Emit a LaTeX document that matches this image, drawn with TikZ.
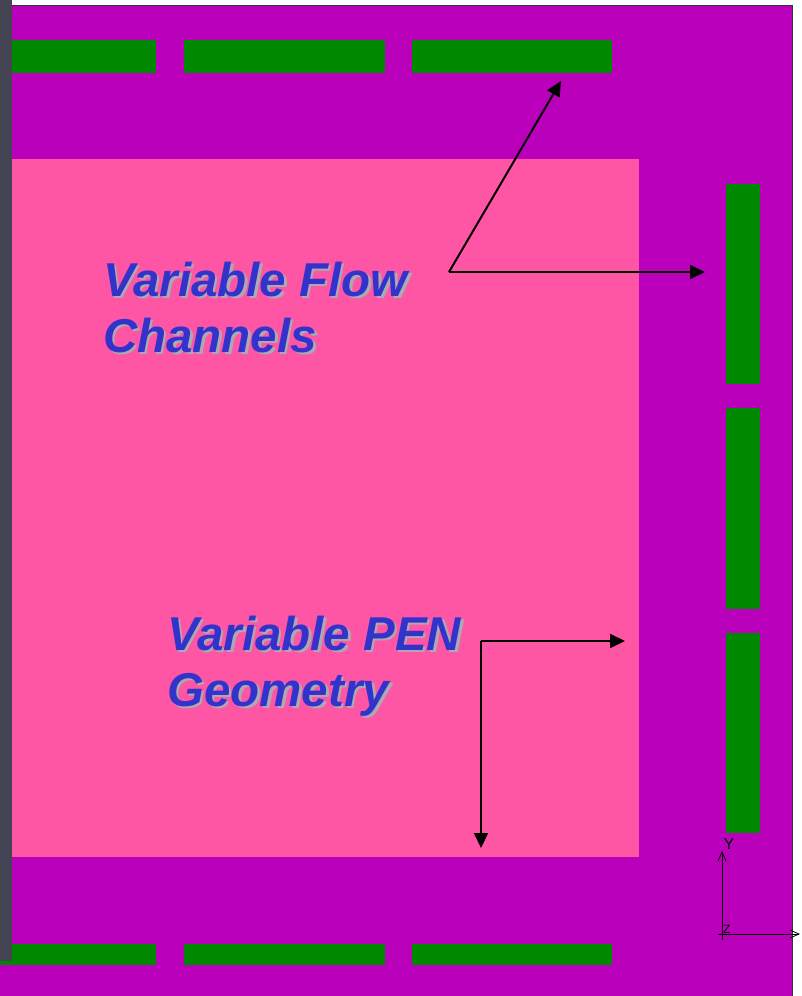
\documentclass[tikz,border=0pt]{standalone}
\usepackage{fontspec}
\setmainfont{Liberation Sans}
\usetikzlibrary{arrows.meta}

\definecolor{plate}{RGB}{187,0,187}
\definecolor{pen}{RGB}{255,85,165}
\definecolor{channel}{RGB}{0,136,0}
\definecolor{frame}{RGB}{68,68,85}
\definecolor{tagblue}{RGB}{51,51,204}
\definecolor{taggray}{RGB}{170,170,180}

\tikzset{
  bar/.style={fill=channel},
  tag/.style={font=\fontsize{47.5}{56}\selectfont\bfseries\itshape,
    align=left, inner sep=0pt, anchor=base west},
  pointer/.style={line width=2pt, -{Triangle[length=15pt,width=14pt]}},
  triad/.style={line width=0.8pt, -{Straight Barb[length=9pt,width=8pt]}},
}

\begin{document}
\begin{tikzpicture}[x=1pt,y=-1pt]
\useasboundingbox (0,0) rectangle (801,996);
\fill[white] (0,0) rectangle (801,996);

% plate with PEN region
\fill[plate] (0,5.5) rectangle (792.5,996);
\draw[line width=1.2pt, black!80] (12,5.5) -- (792.5,5.5) -- (792.5,996);
\fill[pen] (12,159) rectangle (639,857);

% flow channels
\foreach \a/\b in {0/156,184/385,412/612} {
  \fill[bar] (\a,40) rectangle (\b,73);
  \fill[bar] (\a,944) rectangle (\b,965);
}
\foreach \a/\b in {184/384,408/609,633/833}
  \fill[bar] (726,\a) rectangle (760,\b);

\fill[frame] (0,0) rectangle (12,961);

% labels (base is the last line)
\node[tag, text=taggray] (flowshade) at (105.5,354.5) {Variable Flow\\Channels};
\node[tag, text=tagblue] (flow) at (103,352) {Variable Flow\\Channels};
\node[tag, text=taggray] (penshade) at (169.5,708.5) {Variable PEN\\Geometry};
\node[tag, text=tagblue] (pentag) at (167,706) {Variable PEN\\Geometry};

% pointers
\coordinate (fork) at (449,272);
\coordinate (topch) at (561,81);
\coordinate (sidech) at (705,272);
\draw[pointer] (fork) -- (topch);
\draw[pointer] (fork) -- (sidech);

\coordinate (bend) at (481,641);
\coordinate (penright) at (625,641);
\coordinate (penbottom) at (481,848);
\draw[pointer] (bend) -- (penright);
\draw[pointer] (bend) -- (penbottom);

% axis triad
\coordinate (ybase) at (722,940);
\coordinate (ytip) at (722,851);
\coordinate (zbase) at (718,934);
\coordinate (ztip) at (800,934);
\draw[triad] (ybase) -- (ytip);
\draw[triad] (zbase) -- (ztip);
\node[font=\fontsize{16}{16}\selectfont, inner sep=0pt] (ylab) at (729,844) {Y};
\node[font=\fontsize{12}{12}\selectfont, inner sep=0pt, anchor=south west] (zlab) at (723,934) {Z};
\end{tikzpicture}
\end{document}
